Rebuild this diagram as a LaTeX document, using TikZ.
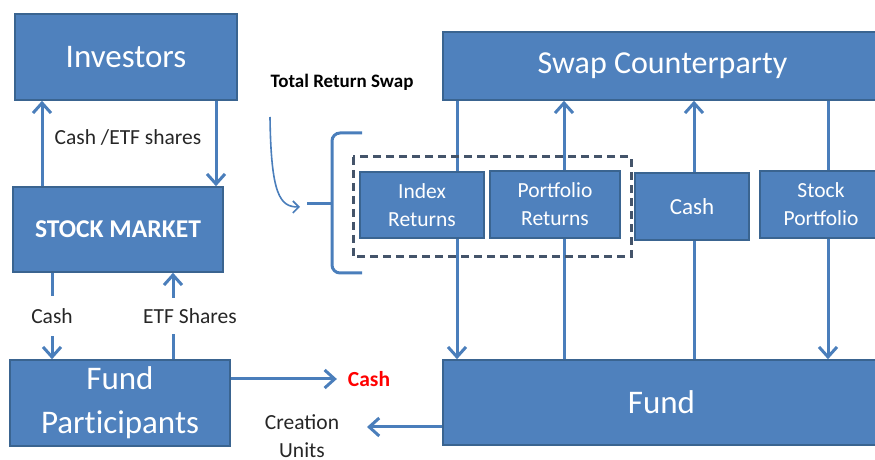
\documentclass[tikz,border=0pt]{standalone}
\usepackage{fontspec}
\setmainfont{Carlito}
\usetikzlibrary{arrows.meta}
\definecolor{boxblue}{HTML}{4F81BD}
\definecolor{boxline}{HTML}{3A6490}
\definecolor{lineblue}{HTML}{4A7EBB}
\definecolor{dashgray}{HTML}{44546A}
\definecolor{txtgray}{HTML}{262626}
\tikzset{
  box/.style={draw=boxline, fill=boxblue, line width=0.8pt, text=white, inner sep=0pt, align=center},
  flow/.style={draw=lineblue, line width=1.5pt, -{Straight Barb[length=5pt,width=9pt]}},
  lbl/.style={text=txtgray, font=\fontsize{10.75}{14}\selectfont, align=center},
  big/.style={font=\fontsize{16.5}{22}\selectfont},
  small/.style={font=\fontsize{10.75}{14}\selectfont},
}
\begin{document}
\begin{tikzpicture}[x=0.5pt, y=-0.5pt]
	\useasboundingbox (0,0) rectangle (875,460);
	\node[box, big, minimum width=111pt, minimum height=43pt] (inv) at (126,57) {Investors};
	\node[box, minimum width=105pt, minimum height=42.5pt, font=\fontsize{12.8}{15}\selectfont\bfseries] (mkt) at (118,229.5) {STOCK MARKET};
	\node[box, big, minimum width=110pt, minimum height=43pt] (fp) at (120,403) {Fund\\{\addfontfeature{Ligatures=NoCommon}Participants}};
	\node[box, font=\fontsize{16}{20}\selectfont, minimum width=219.5pt, minimum height=34pt] (swap) at (662.5,66) {Swap Counterparty};
	\node[box, big, minimum width=218.5pt, minimum height=42.5pt] (fund) at (661.5,402.5) {Fund};

	\coordinate (xa) at (42,0);
	\coordinate (xb) at (216,0);
	\coordinate (xc) at (52,0);
	\coordinate (xd) at (173,0);
	\coordinate (xe) at (457,0);
	\coordinate (xf) at (564,0);
	\coordinate (xg) at (694,0);
	\coordinate (xh) at (828,0);

	\draw[flow] (swap.south -| xe) -- (fund.north -| xe);
	\draw[flow] (fund.north -| xf) -- (swap.south -| xf);
	\draw[flow] (fund.north -| xg) -- (swap.south -| xg);
	\draw[flow] (swap.south -| xh) -- (fund.north -| xh);

	\node[box, small, minimum width=62pt, minimum height=33pt] (idx) at (422,205) {Index\\Returns};
	\node[box, small, minimum width=65pt, minimum height=33.5pt] (port) at (555,204.5) {Portfolio\\Returns};
	\node[box, font=\fontsize{11.5}{14}\selectfont, minimum width=57pt, minimum height=33.5pt] (cashbox) at (692,206.5) {Cash};
	\node[box, small, minimum width=61pt, minimum height=33.5pt] (stock) at (821,204.5) {Stock\\Portfolio};
	\draw[dashgray, line width=1.5pt, dash pattern=on 4pt off 2.5pt] (353,157) rectangle (631,257);

	\draw[flow] (mkt.north -| xa) -- (inv.south -| xa);
	\draw[flow] (inv.south -| xb) -- (mkt.north -| xb);
	\node[lbl] (ce) at (128,137) {Cash /ETF shares};
	\draw[flow] (mkt.south -| xc) -- node[lbl, fill=white, inner ysep=6pt] (cashlbl) {Cash} (fp.north -| xc);
	\draw[flow] (fp.north -| xd) -- node[lbl, fill=white, inner ysep=5pt, xshift=8.5pt] (etflbl) {ETF Shares} (mkt.south -| xd);

	\node[font=\fontsize{10.75}{14}\selectfont\bfseries, text=red] (cashout) at (369,379) {Cash};
	\draw[flow, shorten >=2pt] (fp.east |- cashout) -- (cashout.west);
	\node[lbl] (cu) at (302,436) {Creation\\Units};
	\coordinate (cuend) at (367,427);
	\draw[flow] (fund.west |- cuend) -- (cuend);

	\node[font=\fontsize{9.5}{11}\selectfont\bfseries, text=black] (trs) at (342,82) {Total Return Swap};
	\coordinate (cstart) at (270,117);
	\coordinate (cend) at (300,207);
	\draw[lineblue, line width=0.8pt, -{Straight Barb[length=3pt,width=6pt]}] (cstart) .. controls (271,195) and (280,207) .. (cend);
	\coordinate (brtop) at (362,133);
	\coordinate (brbot) at (362,273);
	\coordinate (brtip) at (307,204);
	\draw[lineblue, line width=1.5pt, rounded corners=4pt] (brtop) -- (332,133) -- (332,273) -- (brbot);
	\draw[lineblue, line width=1.5pt] (brtip) -- (332,204);
\end{tikzpicture}
\end{document}
